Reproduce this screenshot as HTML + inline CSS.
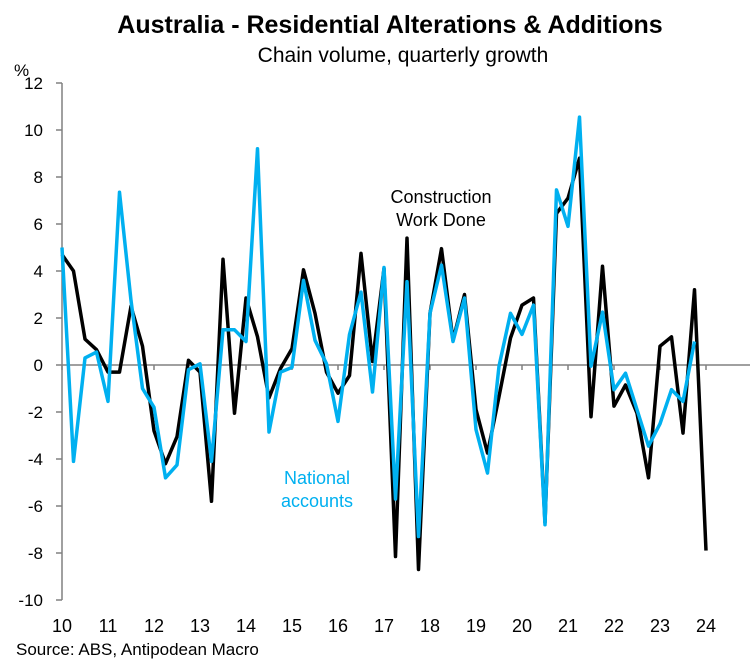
<!DOCTYPE html>
<html><head><meta charset="utf-8"><style>
body{margin:0;background:#fff;width:751px;height:667px;overflow:hidden;font-family:"Liberation Sans",Arial,sans-serif}
svg text{font-family:"Liberation Sans",Arial,sans-serif}
</style></head><body>
<svg id="chart" width="751" height="667" xmlns="http://www.w3.org/2000/svg">
<text x="390" y="33" font-size="25" font-weight="bold" text-anchor="middle">Australia - Residential Alterations &amp; Additions</text>
<text x="403" y="62" font-size="21" text-anchor="middle">Chain volume, quarterly growth</text>
<text x="14" y="76" font-size="17">%</text>
<text x="16" y="655" font-size="17">Source: ABS, Antipodean Macro</text>
<text x="441" y="203" font-size="18" text-anchor="middle">Construction</text>
<text x="441" y="226" font-size="18" text-anchor="middle">Work Done</text>
<text x="317" y="484" font-size="18" fill="#00b0f0" text-anchor="middle">National</text>
<text x="317" y="507" font-size="18" fill="#00b0f0" text-anchor="middle">accounts</text>
<g id="axes"></g>
<g id="series"></g>
</svg>
<script>
const yTicks=[12,10,8,6,4,2,0,-2,-4,-6,-8,-10];
const xLabels=["10","11","12","13","14","15","16","17","18","19","20","21","22","23","24"];
const constructionWorkDone=[4.7,4.0,1.1,0.65,-0.3,-0.3,2.5,0.8,-2.8,-4.2,-3.05,0.2,-0.3,-5.8,4.5,-2.05,2.85,1.2,-1.4,-0.15,0.7,4.05,2.2,-0.3,-1.2,-0.45,4.75,0.15,4.1,-8.15,5.4,-8.7,2.2,4.95,1.05,3.0,-1.9,-3.75,-1.35,1.15,2.55,2.85,-6.7,6.45,7.1,8.8,-2.2,4.2,-1.75,-0.85,-2.05,-4.8,0.8,1.2,-2.9,3.2,-7.9];
const nationalAccounts=[5.0,-4.1,0.3,0.55,-1.55,7.35,2.75,-1.0,-1.8,-4.8,-4.25,-0.2,0.05,-4.1,1.5,1.5,1.0,9.2,-2.85,-0.3,-0.1,3.6,1.05,0.05,-2.4,1.3,3.1,-1.15,4.15,-5.7,3.55,-7.3,2.2,4.25,1.0,2.85,-2.75,-4.6,-0.05,2.2,1.3,2.55,-6.8,7.45,5.9,10.55,-0.05,2.25,-1.05,-0.35,-1.9,-3.45,-2.5,-1.05,-1.55,1.0];
const NS="http://www.w3.org/2000/svg";
const X0=62,QW=11.5,Y0=365,YU=23.5;
const xq=i=>X0+i*QW;
const yv=v=>Y0-v*YU;
const axes=document.getElementById('axes'),series=document.getElementById('series');
function mk(t,a,p){const e=document.createElementNS(NS,t);for(const k in a)e.setAttribute(k,a[k]);p.appendChild(e);return e;}
const ya=mk('line',{x1:X0,y1:yv(12),x2:X0,y2:yv(-10),stroke:'#808080','stroke-width':1.5},axes);


yTicks.forEach(v=>{
 const t=mk('line',{x1:X0-6,y1:yv(v),x2:X0,y2:yv(v),stroke:'#808080','stroke-width':1.5},axes);
 
 
 const l=mk('text',{x:X0-19,y:yv(v)+6,'font-size':17,'text-anchor':'end'},axes);
 
 
 l.textContent=v;
});
const xa=mk('line',{x1:X0,y1:Y0,x2:750,y2:Y0,stroke:'#808080','stroke-width':1.5},axes);


xLabels.forEach((s,i)=>{
 const x=xq(i*4);
 const t=mk('line',{x1:x,y1:Y0,x2:x,y2:Y0+5,stroke:'#808080','stroke-width':1.5},axes);
 
 
 const l=mk('text',{x:x,y:632,'font-size':18,'text-anchor':'middle'},axes);
 
 
 l.textContent=s;
});
function line(d){return d.map((v,i)=>(i?'L':'M')+xq(i).toFixed(1)+','+yv(v).toFixed(1)).join('');}
const p1=mk('path',{d:line(constructionWorkDone),fill:'none',stroke:'#000','stroke-width':3.5,'stroke-linejoin':'round'},series);


const p2=mk('path',{d:line(nationalAccounts),fill:'none',stroke:'#00b0f0','stroke-width':3.5,'stroke-linejoin':'round'},series);


</script>
</body></html>
